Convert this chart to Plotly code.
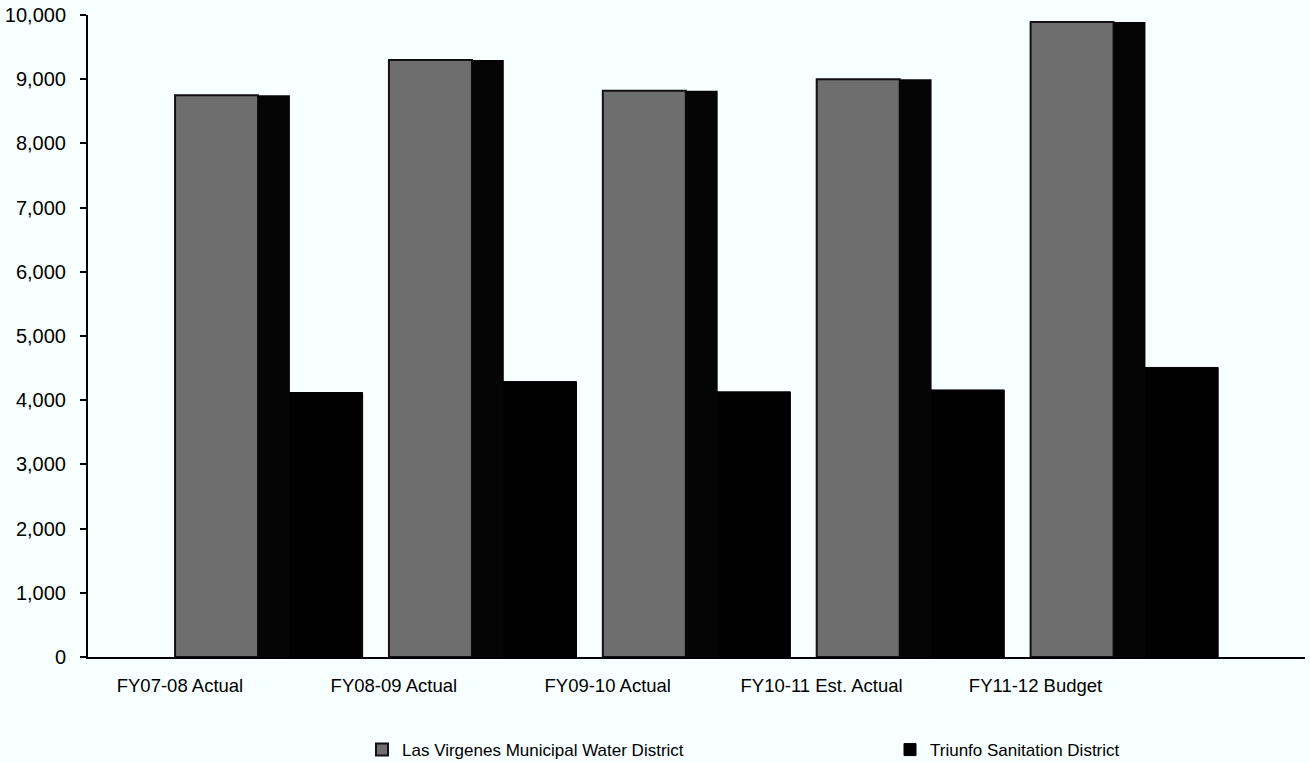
import plotly.graph_objects as go

categories = ["FY07-08 Actual", "FY08-09 Actual", "FY09-10 Actual", "FY10-11 Est. Actual", "FY11-12 Budget"]
las_virgenes = [8750, 9300, 8820, 9000, 9890]
triunfo = [4120, 4290, 4130, 4160, 4510]
y_ticks = [0, 1000, 2000, 3000, 4000, 5000, 6000, 7000, 8000, 9000, 10000]

BG = "#f7ffff"
font = "Liberation Sans, Arial, sans-serif"

fig = go.Figure()

# Triunfo bar (black)
fig.add_trace(go.Bar(
    x=categories, y=triunfo, name="Triunfo Sanitation District",
    marker=dict(color="#000000", line=dict(color="#000000", width=1)),
    offset=0.364, width=0.49, legend="legend2",
))
# Las Virgenes front face (gray)
fig.add_trace(go.Bar(
    x=categories, y=las_virgenes, name="Las Virgenes Municipal Water District",
    marker=dict(color="#6e6e6e", line=dict(color="#111111", width=2)),
    offset=-0.023, width=0.388, legend="legend",
))
# Las Virgenes 3D side face (dark)
fig.add_trace(go.Bar(
    x=categories, y=las_virgenes, name="side", showlegend=False, hoverinfo="skip",
    marker=dict(color="#050505", line=dict(width=0)),
    offset=0.364, width=0.15,
))

leg_common = dict(
    orientation="h", xanchor="left", yref="container", y=0.017, yanchor="middle",
    font=dict(size=17), bgcolor="rgba(0,0,0,0)", itemwidth=30,
)

fig.update_layout(
    width=1310, height=763,
    margin=dict(l=88, r=5, t=15, b=106),
    paper_bgcolor=BG, plot_bgcolor=BG,
    barmode="overlay",
    font=dict(family=font, color="#000000", size=18),
    legend=dict(x=(362 - 88) / 1217, **leg_common),
    legend2=dict(x=(890 - 88) / 1217, **leg_common),
    xaxis=dict(
        type="category", range=[-0.43, 5.26],
        showline=True, linecolor="#000000", linewidth=2,
        showgrid=False, ticks="", tickfont=dict(size=18.5),
        ticklabelstandoff=11,
    ),
    yaxis=dict(
        range=[0, 10000], tickvals=y_ticks, tickformat=",d",
        showline=True, linecolor="#000000", linewidth=2,
        showgrid=False, zeroline=False,
        ticks="outside", ticklen=6, tickcolor="#000000", tickwidth=2,
        ticklabelstandoff=10, tickfont=dict(size=20),
    ),
)

fig.write_html("out.html")
